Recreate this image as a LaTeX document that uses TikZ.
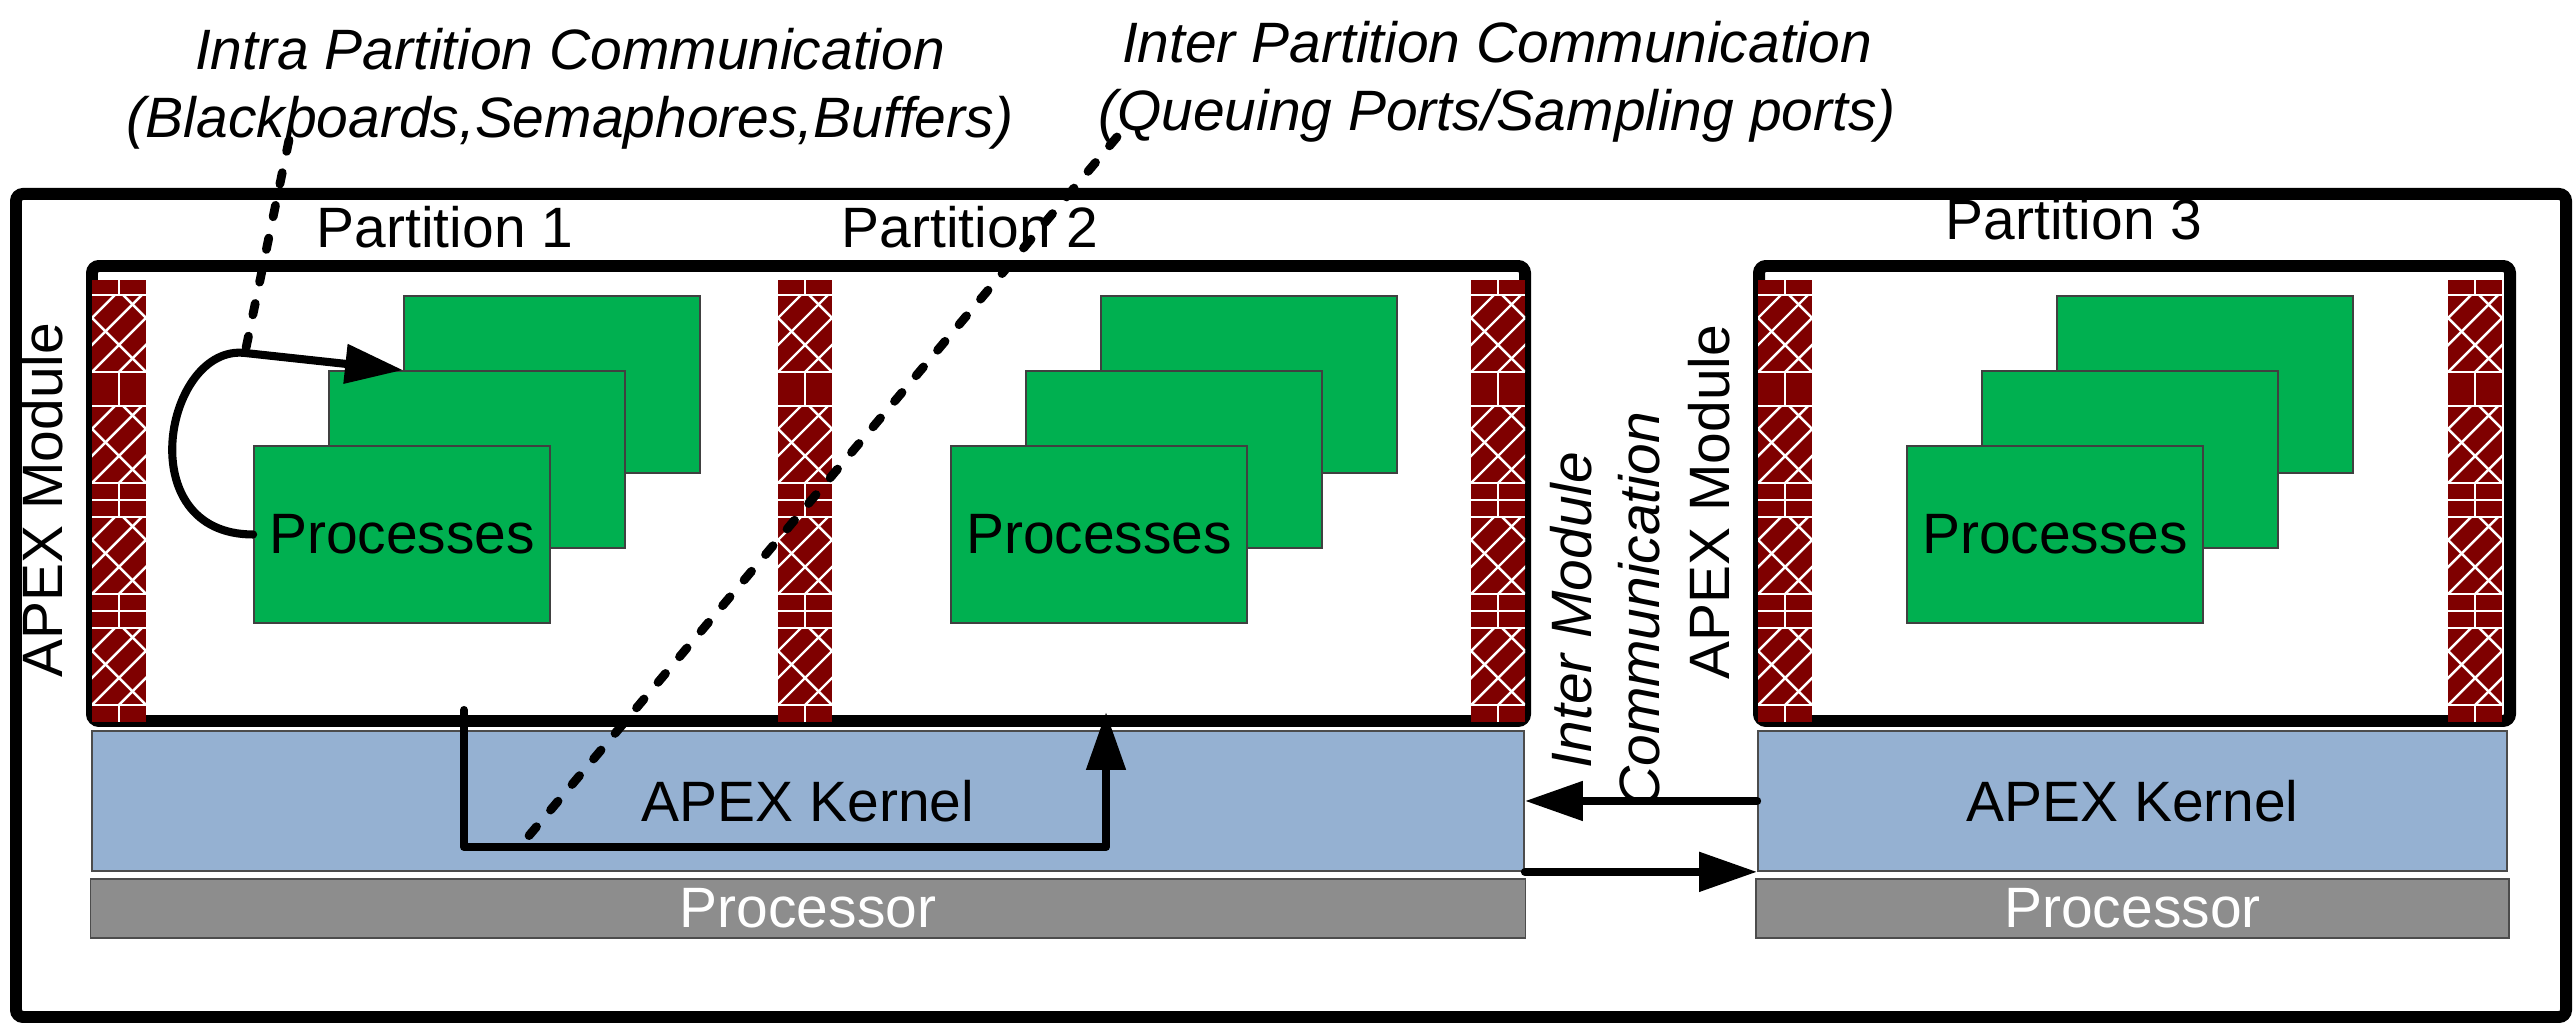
\documentclass[tikz,border=0pt]{standalone}
\usepackage{fontspec}
\setmainfont{Liberation Sans}
\usepackage{xcolor}
\usepackage{tikz}
\usetikzlibrary{arrows.meta, positioning, calc}
\definecolor{procgreen}{RGB}{0,176,80}
\definecolor{kernelblue}{RGB}{149,177,210}
\definecolor{cpugray}{RGB}{141,141,141}
\definecolor{brickred}{RGB}{127,0,0}
\tikzstyle{frame} = [rectangle, draw=black, line width=3.4pt, rounded corners=2pt, inner sep=0pt]
\tikzstyle{kernel} = [rectangle, draw=black!70, line width=0.5pt, fill=kernelblue, minimum height=1.4cm, inner sep=0pt, text centered, font=\fontsize{16.2}{19.4}\selectfont]
\tikzstyle{cpu} = [rectangle, draw=black!70, line width=0.5pt, fill=cpugray, minimum height=0.59cm, inner sep=0pt, text=white, font=\fontsize{16.2}{19.4}\selectfont]
\tikzstyle{process} = [rectangle, draw=black!75, line width=0.5pt, fill=procgreen, minimum width=2.96cm, minimum height=1.77cm, inner sep=0pt, font=\fontsize{16.2}{19.4}\selectfont]
\tikzstyle{txt} = [inner sep=0pt, font=\fontsize{16.2}{19.4}\selectfont]
\tikzstyle{note} = [inner sep=0pt, align=center, font=\fontsize{16.2}{19.4}\selectfont\itshape]
\tikzstyle{arrow} = [line width=2.3pt, -{Triangle[length=0.58cm,width=0.38cm]}, line join=round, line cap=round]
\tikzstyle{dotline} = [line width=2.5pt, dash pattern=on 3.3pt off 6.2pt, line cap=round]
\tikzstyle{brick} = [fill=brickred]
\tikzstyle{mortar} = [draw=white, line width=0.7pt]

% brick wall: #1 = left x, #2 = top y
\newcommand{\brickwall}[2]{%
  \begin{scope}[shift={(#1,#2)}]
    \fill[brick] (0,0) rectangle (0.54,-4.42);
    \draw[mortar] (0.27,0) -- (0.27,-0.15);
    \foreach \course in {0,1,2,3}{
      \pgfmathsetmacro{\bandtop}{0.15+1.11*\course}
      \pgfmathsetmacro{\bandbot}{\bandtop+0.77}
      \draw[mortar] (0,-\bandtop) -- (0.54,-\bandtop) (0,-\bandbot) -- (0.54,-\bandbot);
      \draw[mortar] (0.27,-\bandbot) -- (0.27,{-min(\bandbot+0.34,4.42)});
      \ifnum\course>0 \ifnum\course<3
        \draw[mortar] (0,{-(\bandbot+0.17)}) -- (0.54,{-(\bandbot+0.17)});
      \fi\fi
      \begin{scope}
        \clip (0,-\bandtop) rectangle (0.54,-\bandbot);
        \foreach \dx in {-0.81,-0.54,...,0.54}
          \draw[mortar] (\dx,-\bandbot) -- ++(0.77,0.77);
        \foreach \dx in {-0.77,-0.23,0.31}
          \draw[mortar] (\dx,-\bandtop) -- ++(0.77,-0.77);
      \end{scope}
    }
  \end{scope}}

\begin{document}
\begin{tikzpicture}
    \useasboundingbox (0,0) rectangle (25.73,10.26);

    % module and partitions
    \node (module) [frame, minimum width=25.50cm, minimum height=8.23cm] at (12.91,4.205) {};
    \node (part12) [frame, minimum width=14.33cm, minimum height=4.55cm] at (8.085,5.325) {};
    \node (part3) [frame, minimum width=7.51cm, minimum height=4.55cm] at (21.345,5.325) {};

    % partition walls
    \brickwall{0.92}{7.46}
    \brickwall{7.78}{7.46}
    \brickwall{14.71}{7.46}
    \brickwall{17.58}{7.46}
    \brickwall{24.48}{7.46}

    % kernel and processor
    \node (kern12) [kernel, minimum width=14.32cm] at (8.08,2.25) {APEX Kernel};
    \node (kern3) [kernel, minimum width=7.49cm] at (21.325,2.25) {APEX Kernel};
    \node (cpu12) [cpu, minimum width=14.35cm, below=0.06cm of kern12] {Processor};
    \node (cpu3) [cpu, minimum width=7.53cm, below=0.06cm of kern3] {Processor};

    % processes
    \node (p1back) [process] at (5.52,6.415) {};
    \node (p1mid) [process] at ([shift={(-0.75,-0.75)}]p1back) {};
    \node (p1front) [process] at ([shift={(-0.75,-0.75)}]p1mid) {Processes};
    \node (p2back) [process] at (12.49,6.415) {};
    \node (p2mid) [process] at ([shift={(-0.75,-0.75)}]p2back) {};
    \node (p2front) [process] at ([shift={(-0.75,-0.75)}]p2mid) {Processes};
    \node (p3back) [process] at (22.05,6.415) {};
    \node (p3mid) [process] at ([shift={(-0.75,-0.75)}]p3back) {};
    \node (p3front) [process] at ([shift={(-0.75,-0.75)}]p3mid) {Processes};

    % labels
    \node (p1lbl) [txt] at (4.45,7.99) {Partition 1};
    \node (p2lbl) [txt] at (9.70,7.99) {Partition 2};
    \node (p3lbl) [txt] at (20.74,8.07) {Partition 3};
    \node (apexl) [txt, rotate=90] at (0.42,5.26) {APEX Module};
    \node (apexr) [txt, rotate=90] at (17.09,5.24) {APEX Module};
    \node (imc) [note, rotate=90] at (16.05,4.16) {Inter Module\\Communication};
    \node (intralbl) [note] at (5.70,9.37) {Intra Partition Communication\\(Blackboards,Semaphores,Buffers)};
    \node (interlbl) [note] at (14.97,9.445) {Inter Partition Communication\\(Queuing Ports/Sampling ports)};

    \coordinate (intratop) at (2.45,6.73);
    \coordinate (intrahint) at (2.89,8.86);
    \coordinate (interhint) at (11.17,8.89);
    \coordinate (interfoot) at (5.22,1.82);
    \coordinate (ipout) at (4.64,3.16);
    \coordinate (ipturn) at (4.64,1.79);
    \coordinate (ipin) at (11.06,3.14);

    % communication paths
    \draw [arrow] (p1front.west) .. controls +(-1.24,0) and +(-0.8,0.09) .. (intratop) -- (p1mid.north -| p1back.west);
    \draw [arrow] (ipout) -- (ipturn) -| (ipin);
    \draw [arrow] (kern3.west) -- (kern3.west -| kern12.east);
    \draw [arrow] (kern12.south east) -- (kern3.south west);

    \draw [dotline] (intrahint) -- (intratop);
    \draw [dotline] (interhint) -- (interfoot);
\end{tikzpicture}
\end{document}
